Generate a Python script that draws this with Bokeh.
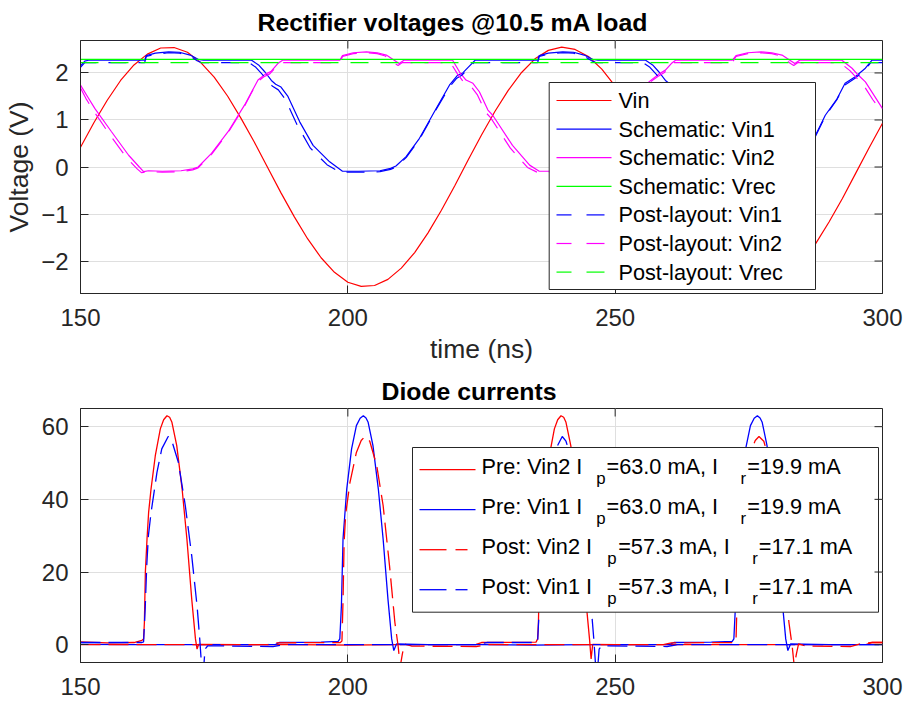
from bokeh.plotting import figure
from bokeh.layouts import column
from bokeh.models import Range1d, FixedTicker, BoxAnnotation
from bokeh.core.properties import value
from bokeh.embed import file_html
from bokeh.resources import INLINE

# ---------------- data ----------------
x_ticks = [150, 200, 250, 300]
v_ticks = [-2, -1, 0, 1, 2]
i_ticks = [0, 20, 40, 60]

# Vin (source voltage)
vin_t = [150.0, 152.5, 155.0, 157.5, 160.0, 162.5, 165.0, 167.5, 170.0, 172.5,
         175.0, 177.5, 180.0, 182.5, 185.0, 187.5, 190.0, 192.5, 195.0, 197.5,
         200.0, 202.5, 205.0, 207.5, 210.0, 212.5, 215.0, 217.5, 220.0, 222.5,
         225.0, 227.5, 230.0, 232.5, 235.0, 237.5, 240.0, 242.5, 245.0, 247.5,
         250.0, 252.5, 255.0, 257.5, 260.0, 262.5, 265.0, 267.5, 270.0, 272.5,
         275.0, 277.5, 280.0, 282.5, 285.0, 287.5, 290.0, 292.5, 295.0, 297.5,
         300.0]
vin_v = [0.42, 0.94, 1.42, 1.84, 2.17, 2.40, 2.53, 2.54, 2.44, 2.22,
         1.91, 1.51, 1.04, 0.53, -0.01, -0.55, -1.06, -1.53, -1.93, -2.24,
         -2.45, -2.54, -2.52, -2.39, -2.15, -1.82, -1.40, -0.92, -0.40, 0.15,
         0.68, 1.18, 1.63, 2.01, 2.30, 2.48, 2.55, 2.50, 2.35, 2.08,
         1.72, 1.29, 0.79, 0.26, -0.28, -0.81, -1.30, -1.73, -2.09, -2.35,
         -2.51, -2.55, -2.48, -2.29, -2.00, -1.63, -1.17, -0.67, -0.13, 0.41,
         0.93]

# Schematic Vin1
sch_vin1_t = [150.0, 150.8, 151.5, 162.0, 162.3, 164.0, 166.5, 168.5, 170.5, 172.0,
              173.0, 182.0, 183.3, 184.5, 185.7, 186.5, 187.5, 188.8, 191.0, 193.5,
              196.6, 199.0, 202.0, 206.0, 208.0, 209.0, 210.9, 213.4, 216.5, 219.0,
              220.5, 221.5, 222.5, 223.8, 235.5, 235.8, 237.5, 240.2, 242.2, 244.2,
              245.8, 246.8, 255.7, 257.0, 258.2, 259.4, 260.3, 261.3, 262.6, 264.8,
              267.3, 270.4, 272.8, 275.8, 279.8, 281.8, 282.8, 284.7, 287.2, 289.3,
              291.5, 293.0, 294.9, 296.8, 298.0, 300.0]
sch_vin1_v = [2.15, 2.25, 2.27, 2.27, 2.37, 2.42, 2.45, 2.44, 2.38, 2.29,
              2.27, 2.27, 2.17, 2.02, 1.84, 1.76, 1.70, 1.50, 0.96, 0.46,
              0.11, -0.09, -0.09, -0.08, -0.03, 0.02, 0.22, 0.61, 1.24, 1.74,
              1.95, 2.00, 2.12, 2.27, 2.27, 2.37, 2.42, 2.45, 2.44, 2.38,
              2.29, 2.27, 2.27, 2.17, 2.02, 1.84, 1.76, 1.70, 1.50, 0.96,
              0.46, 0.11, -0.09, -0.09, -0.08, -0.03, 0.02, 0.22, 0.61, 1.10,
              1.45, 1.78, 1.92, 2.10, 2.27, 2.27]

# Schematic Vin2
sch_vin2_t = [150.0, 151.3, 152.7, 155.8, 159.0, 161.0, 161.8, 162.7, 165.3, 168.8,
              171.0, 172.0, 174.5, 177.6, 180.7, 183.2, 184.5, 185.6, 186.9, 187.8,
              198.5, 199.0, 201.0, 203.5, 205.5, 207.2, 209.1, 209.6, 210.5, 219.6,
              220.9, 222.1, 223.4, 224.6, 226.2, 227.1, 230.8, 234.0, 235.8, 240.0,
              243.0, 245.0, 246.0, 248.3, 251.4, 254.5, 256.3, 258.1, 259.4, 260.5,
              261.3, 271.9, 272.6, 274.8, 277.3, 279.3, 281.2, 283.1, 283.6, 284.5,
              292.4, 294.3, 295.5, 296.8, 298.6, 300.0]
sch_vin2_v = [1.74, 1.50, 1.24, 0.75, 0.25, 0.00, -0.10, -0.08, -0.09, -0.08,
              -0.04, 0.00, 0.29, 0.75, 1.32, 1.85, 1.97, 2.03, 2.20, 2.27,
              2.27, 2.37, 2.43, 2.45, 2.43, 2.38, 2.24, 2.20, 2.27, 2.27,
              2.02, 1.85, 1.78, 1.60, 1.21, 1.10, 0.46, 0.04, -0.09, -0.09,
              -0.08, -0.04, 0.00, 0.29, 0.75, 1.32, 1.81, 1.97, 2.06, 2.20,
              2.27, 2.27, 2.37, 2.43, 2.45, 2.43, 2.38, 2.24, 2.20, 2.27,
              2.27, 2.10, 1.95, 1.81, 1.49, 1.24]

# Schematic / post-layout Vrec
vrec_t = [150.0, 300.0]
sch_vrec_v = [2.29, 2.29]
post_vrec_v = [2.22, 2.22]

# Post-layout Vin1
post_vin1_t = [150.0, 150.8, 162.0, 162.3, 164.0, 166.5, 168.5, 170.5, 171.8, 172.6,
               181.5, 182.8, 184.0, 185.2, 186.0, 187.0, 188.3, 190.5, 193.0, 196.1,
               198.5, 202.0, 206.0, 208.0, 209.0, 210.9, 213.4, 216.5, 219.0, 220.3,
               221.3, 222.3, 223.6, 235.5, 235.8, 237.5, 240.2, 242.2, 244.2, 245.6,
               246.4, 255.2, 256.5, 257.7, 258.9, 259.8, 260.8, 262.1, 264.3, 266.8,
               269.9, 272.3, 275.8, 279.8, 281.8, 282.8, 284.7, 287.2, 289.3, 291.4,
               292.9, 294.8, 296.7, 297.8, 300.0]
post_vin1_v = [2.12, 2.22, 2.22, 2.35, 2.40, 2.43, 2.42, 2.36, 2.26, 2.22,
               2.22, 2.12, 1.97, 1.79, 1.71, 1.64, 1.44, 0.90, 0.40, 0.05,
               -0.11, -0.11, -0.10, -0.05, 0.00, 0.20, 0.59, 1.22, 1.70, 1.88,
               1.95, 2.06, 2.22, 2.22, 2.35, 2.40, 2.43, 2.42, 2.36, 2.26,
               2.22, 2.22, 2.12, 1.97, 1.79, 1.71, 1.64, 1.44, 0.90, 0.40,
               0.05, -0.11, -0.11, -0.10, -0.05, 0.00, 0.20, 0.59, 1.08, 1.42,
               1.74, 1.88, 2.06, 2.22, 2.22]

# Post-layout Vin2
post_vin2_t = [150.0, 151.0, 152.4, 155.4, 158.6, 160.6, 161.4, 162.7, 165.3, 168.8,
               171.0, 172.0, 174.5, 177.6, 180.7, 183.0, 184.3, 185.4, 186.7, 187.5,
               198.5, 199.0, 201.0, 203.5, 205.5, 207.0, 208.8, 209.4, 210.2, 219.2,
               220.5, 221.7, 223.0, 224.2, 225.8, 226.7, 230.4, 233.6, 235.4, 240.0,
               243.0, 245.0, 246.0, 248.3, 251.4, 254.5, 256.1, 257.9, 259.2, 260.3,
               261.0, 271.9, 272.6, 274.8, 277.3, 279.3, 281.0, 282.8, 283.4, 284.2,
               292.0, 293.9, 295.1, 296.4, 298.2, 300.0]
post_vin2_v = [1.68, 1.46, 1.20, 0.70, 0.20, -0.04, -0.12, -0.10, -0.11, -0.10,
               -0.06, -0.02, 0.27, 0.73, 1.30, 1.80, 1.92, 1.98, 2.14, 2.22,
               2.22, 2.35, 2.41, 2.43, 2.41, 2.36, 2.20, 2.16, 2.22, 2.22,
               1.98, 1.80, 1.72, 1.54, 1.16, 1.05, 0.40, -0.01, -0.11, -0.11,
               -0.10, -0.06, -0.02, 0.27, 0.73, 1.30, 1.77, 1.92, 2.01, 2.14,
               2.22, 2.22, 2.35, 2.41, 2.43, 2.41, 2.36, 2.20, 2.16, 2.22,
               2.22, 2.05, 1.90, 1.75, 1.43, 1.16]

# Diode currents (mA)
pre_vin2_t = [150.0, 155.0, 160.0, 161.5, 161.8, 161.95, 162.13, 162.44, 162.74, 163.19,
              163.99, 164.93, 165.55, 166.17, 166.67, 167.1, 168.0, 169.0, 169.9, 170.8,
              171.5, 171.8, 172.1, 180.0, 190.0, 200.0, 210.0, 220.0, 224.0, 225.0,
              235.2, 235.5, 235.65, 235.83, 236.14, 236.44, 236.89, 237.69, 238.63, 239.25,
              239.87, 240.37, 240.8, 241.7, 242.7, 243.6, 244.5, 245.2, 245.5, 245.8,
              250.0, 260.0, 270.0, 280.0, 290.0, 297.0, 298.0, 300.0]
pre_vin2_i = [0.8, 0.5, 0.6, 1.2, 1.6, 6.1, 19.9, 29.1, 36.4, 42.8,
              52.0, 59.4, 61.9, 63.0, 62.6, 61.2, 54.8, 42.9, 29.1, 12.6,
              1.6, -1.2, 0.1, 0.0, 0.0, -0.1, 0.0, 0.0, 0.1, 0.6,
              0.7, 1.6, 6.1, 19.9, 29.1, 36.4, 42.8, 52.0, 59.4, 61.9,
              63.0, 62.6, 61.2, 54.8, 42.9, 29.1, 12.6, 1.6, -3.9, 0.1,
              0.0, 0.0, 0.0, 0.0, 0.0, 0.1, 0.6, 0.6]

pre_vin1_t = [150.0, 160.0, 170.0, 180.0, 186.5, 187.2, 195.0, 198.2, 198.5, 198.8,
              199.1, 199.8, 200.7, 201.6, 202.3, 202.9, 203.4, 203.8, 204.7, 205.7,
              206.6, 207.5, 208.2, 208.6, 209.1, 215.0, 225.0, 235.0, 245.0, 255.0,
              260.2, 261.0, 268.0, 271.9, 272.2, 272.5, 272.8, 273.5, 274.4, 275.3,
              276.0, 276.6, 277.1, 277.5, 278.4, 279.4, 280.3, 281.2, 281.9, 282.3,
              282.8, 290.0, 300.0]
pre_vin1_i = [0.1, 0.0, 0.0, 0.0, 0.1, 0.6, 0.7, 0.9, 1.6, 10.7,
              29.1, 42.9, 53.9, 60.3, 62.3, 63.0, 62.4, 61.2, 54.8, 42.9,
              29.1, 12.6, 1.6, -1.6, 0.2, 0.0, 0.0, -0.1, 0.0, 0.0,
              0.1, 0.6, 0.7, 0.9, 1.6, 10.7, 29.1, 42.9, 53.9, 60.3,
              62.3, 63.0, 62.4, 61.2, 54.8, 42.9, 29.1, 12.6, 1.6, -1.6,
              0.2, 0.0, 0.0]

post_vin2_ct = [150.0, 185.0, 186.5, 198.6, 198.9, 199.1, 199.3, 199.6, 200.4, 201.6,
                202.5, 203.2, 204.1, 205.4, 206.6, 207.8, 208.8, 209.4, 209.8, 210.2,
                210.6, 212.0, 224.0, 226.0, 259.0, 260.5, 272.3, 272.6, 272.8, 273.0,
                273.3, 274.1, 275.3, 276.2, 276.9, 277.8, 279.1, 280.3, 281.5, 282.5,
                283.1, 283.5, 283.9, 284.3, 285.7, 294.0, 296.0, 298.0, 300.0]
post_vin2_i = [0.0, 0.0, 0.5, 0.6, 1.0, 12.0, 28.0, 36.0, 44.7, 52.9,
               56.2, 57.3, 56.0, 49.3, 38.3, 21.7, 6.1, -0.3, -6.0, -2.5,
               0.2, -0.4, -0.5, 0.0, 0.0, 0.5, 0.6, 1.0, 12.0, 28.0,
               36.0, 44.7, 52.9, 56.2, 57.3, 56.0, 49.3, 38.3, 21.7, 6.1,
               -0.3, -6.0, -2.5, 0.2, -0.4, -0.5, 0.3, 0.6, 0.6]

post_vin1_ct = [150.0, 161.5, 161.8, 162.1, 162.4, 162.7, 163.2, 164.3, 165.2, 166.4,
                167.1, 168.3, 169.6, 170.8, 171.8, 172.3, 172.7, 173.0, 173.3, 173.8,
                186.0, 188.0, 224.0, 226.0, 235.2, 235.5, 235.8, 236.1, 236.4, 236.9,
                238.0, 238.9, 240.1, 240.8, 242.0, 243.3, 244.5, 245.5, 246.0, 246.4,
                246.7, 247.0, 247.5, 259.7, 261.7, 300.0]
post_vin1_i = [0.6, 0.6, 0.8, 10.0, 22.0, 30.0, 36.4, 47.4, 53.9, 57.3,
               56.0, 50.2, 38.3, 24.5, 10.7, 1.6, -7.0, -7.0, -1.2, -0.3,
               -0.5, 0.0, 0.0, 0.6, 0.6, 0.8, 10.0, 22.0, 30.0, 36.4,
               47.4, 53.9, 57.3, 56.0, 50.2, 38.3, 24.5, 10.7, 1.6, -7.0,
               -7.0, -1.2, -0.3, -0.5, 0.0, 0.0]

top_labels = ["Vin", "Schematic: Vin1", "Schematic: Vin2", "Schematic: Vrec",
              "Post-layout: Vin1", "Post-layout: Vin2", "Post-layout: Vrec"]
bot_main = [["Pre: Vin2 I", "=63.0 mA, I", "=19.9 mA"],
            ["Pre: Vin1 I", "=63.0 mA, I", "=19.9 mA"],
            ["Post: Vin2 I", "=57.3 mA, I", "=17.1 mA"],
            ["Post: Vin1 I", "=57.3 mA, I", "=17.1 mA"]]
bot_subs = ["p", "r"]

# ---------------- styling ----------------
FONT = "Liberation Sans"
AXC = "#262626"
GRIDC = "#dfdfdf"
RED, BLUE, MAG, GRN = "#ff0000", "#0000ff", "#ff00ff", "#00ff00"
X_RANGE = (150, 300)
V_RANGE = (-2.69, 2.69)
I_RANGE = (-4.9, 65.0)
FL = 80      # frame left (page px)
FW = 802     # frame width
TICK = 8     # inner tick length (px)


def make_fig(yr, yt, fh, mb_top, mb_bottom, title, title_offset, title_standoff):
    p = figure(frame_width=FW, frame_height=fh,
               x_range=Range1d(*X_RANGE), y_range=Range1d(*yr),
               output_backend="svg", toolbar_location=None,
               min_border_left=FL, min_border_right=21,
               min_border_top=mb_top, min_border_bottom=mb_bottom)
    p.background_fill_color = "white"
    p.border_fill_color = "white"
    p.outline_line_color = AXC
    p.outline_line_width = 1
    p.title.text = title
    p.title.text_font = FONT
    p.title.text_font_size = "24.8px"
    p.title.text_font_style = "bold"
    p.title.text_color = "black"
    p.title.align = "left"
    p.title.offset = title_offset
    p.title.standoff = title_standoff

    p.xaxis.ticker = FixedTicker(ticks=x_ticks)
    p.yaxis.ticker = FixedTicker(ticks=yt)
    for ax in p.xaxis + p.yaxis:
        ax.axis_line_color = AXC
        ax.major_tick_line_color = AXC
        ax.major_tick_in = TICK
        ax.major_tick_out = 0
        ax.minor_tick_line_color = None
        ax.major_label_text_font = FONT
        ax.major_label_text_font_size = "24px"
        ax.major_label_text_color = AXC
        ax.axis_label_text_font = FONT
        ax.axis_label_text_font_size = "26.5px"
        ax.axis_label_text_font_style = "normal"
        ax.axis_label_text_color = AXC
    p.xaxis.major_label_standoff = 15
    p.yaxis.major_label_standoff = 12
    p.xgrid.ticker = FixedTicker(ticks=x_ticks)
    p.ygrid.ticker = FixedTicker(ticks=yt)
    p.grid.grid_line_color = GRIDC
    p.grid.grid_line_width = 1

    # inner ticks on the top and right edges of the box (from the tick lists)
    dy = TICK * (yr[1] - yr[0]) / fh
    dx = TICK * (X_RANGE[1] - X_RANGE[0]) / FW
    p.segment(x0=x_ticks, y0=[yr[1]] * len(x_ticks), x1=x_ticks,
              y1=[yr[1] - dy] * len(x_ticks), line_color=AXC, line_width=1)
    p.segment(x0=[X_RANGE[1]] * len(yt), y0=yt, x1=[X_RANGE[1] - dx] * len(yt),
              y1=yt, line_color=AXC, line_width=1, level="overlay")
    return p


def mapper(frame_top, fh, yr):
    def fx(px):
        return X_RANGE[0] + (px - FL) * (X_RANGE[1] - X_RANGE[0]) / FW

    def fy(py):
        return yr[1] - (py - frame_top) * (yr[1] - yr[0]) / fh
    return fx, fy


def legend_samples(p, fx, fy, pieces, ys_px, colors, lw):
    """Legend line samples; each sample is a list of (x0, x1) page-px pieces
    (one piece for solid, two pieces for dashed)."""
    x0s, x1s, ys, cs = [], [], [], []
    for yk, c, pcs in zip(ys_px, colors, pieces):
        for a, b in pcs:
            x0s.append(fx(a)); x1s.append(fx(b)); ys.append(fy(yk)); cs.append(c)
    p.segment(x0=x0s, y0=ys, x1=x1s, y1=ys, line_color=cs, line_width=lw,
              level="overlay")


# ---------------- top: voltages ----------------
p1 = make_fig(V_RANGE, v_ticks, 253, 40, 78, "Rectifier voltages @10.5 mA load", 177, 10)
p1.xaxis.axis_label = "time (ns)"
p1.xaxis.axis_label_standoff = 5
p1.yaxis.axis_label = "Voltage (V)"
p1.yaxis.axis_label_standoff = 4

LW = 1.2
DASH_T = "18 12"
p1.line(vin_t, vin_v, line_color=RED, line_width=LW)
p1.line(sch_vin1_t, sch_vin1_v, line_color=BLUE, line_width=LW)
p1.line(sch_vin2_t, sch_vin2_v, line_color=MAG, line_width=LW)
p1.line(vrec_t, sch_vrec_v, line_color=GRN, line_width=LW)
p1.line(post_vin1_t, post_vin1_v, line_color=BLUE, line_width=LW, line_dash=DASH_T)
p1.line(post_vin2_t, post_vin2_v, line_color=MAG, line_width=LW, line_dash=DASH_T)
p1.line(vrec_t, post_vrec_v, line_color=GRN, line_width=LW, line_dash=DASH_T)

# legend of the top plot (layout in page pixels)
tx, ty = mapper(40, 253, V_RANGE)
p1.add_layout(BoxAnnotation(left=tx(548.7), right=tx(815), top=ty(82), bottom=ty(289),
                            fill_color="white", fill_alpha=1.0,
                            line_color=AXC, line_width=1, line_alpha=1.0))
top_colors = [RED, BLUE, MAG, GRN, BLUE, MAG, GRN]
SOLID_T = [(556, 611)]
DASHED_T = [(556, 571), (586, 604)]
top_pieces = [SOLID_T] * 4 + [DASHED_T] * 3
row_c = [100.0 + 28.6 * k for k in range(7)]
legend_samples(p1, tx, ty, top_pieces, row_c, top_colors, LW)
p1.text(x=[tx(618)] * 7, y=[ty(yc) for yc in row_c], text=top_labels,
        text_font=value(FONT), text_font_size="21.7px", text_color="black",
        text_align="left", text_baseline="middle", level="overlay")

# ---------------- bottom: currents ----------------
p2 = make_fig(I_RANGE, i_ticks, 254, 37, 40, "Diode currents", 301, 7)
DASH_B = "20 8"
LW2 = 1.3
p2.line(pre_vin2_t, pre_vin2_i, line_color=RED, line_width=LW2)
p2.line(pre_vin1_t, pre_vin1_i, line_color=BLUE, line_width=LW2)
p2.line(post_vin2_ct, post_vin2_i, line_color=RED, line_width=LW2, line_dash=DASH_B)
p2.line(post_vin1_ct, post_vin1_i, line_color=BLUE, line_width=LW2, line_dash=DASH_B)

lx, ly = mapper(408, 254, I_RANGE)
p2.add_layout(BoxAnnotation(left=lx(412), right=lx(878), top=ly(447), bottom=ly(611.7),
                            fill_color="white", fill_alpha=1.0,
                            line_color=AXC, line_width=1, line_alpha=1.0))

row_base = [473.5, 513.5, 553.5, 593.5]
SOLID_B = [(419, 475)]
DASHED_B = [(419, 446), (455, 467)]
legend_samples(p2, lx, ly, [SOLID_B, SOLID_B, DASHED_B, DASHED_B],
               [yb - 4.3 for yb in row_base], [RED, BLUE, RED, BLUE], LW2)

main_x = [[481, 606, 746.7], [481, 606, 746.7], [481, 617.7, 758.3], [481, 617.7, 758.3]]
sub_x = [[595.7, 740], [595.7, 740], [606.7, 751.7], [606.7, 751.7]]
mx, my, mt, sx, sy, st = [], [], [], [], [], []
for k in range(4):
    for j in range(3):
        mx.append(lx(main_x[k][j])); my.append(ly(row_base[k] - 7.8)); mt.append(bot_main[k][j])
    for j in range(2):
        sx.append(lx(sub_x[k][j])); sy.append(ly(row_base[k] + 4.8)); st.append(bot_subs[j])
p2.text(x=mx, y=my, text=mt, text_font=value(FONT), text_font_size="21.7px",
        text_color="black", text_align="left", text_baseline="middle", level="overlay")
p2.text(x=sx, y=sy, text=st, text_font=value(FONT), text_font_size="16.8px",
        text_color="black", text_align="left", text_baseline="middle", level="overlay")

layout = column(p1, p2)
open("out.html", "w").write(file_html(layout, INLINE))
